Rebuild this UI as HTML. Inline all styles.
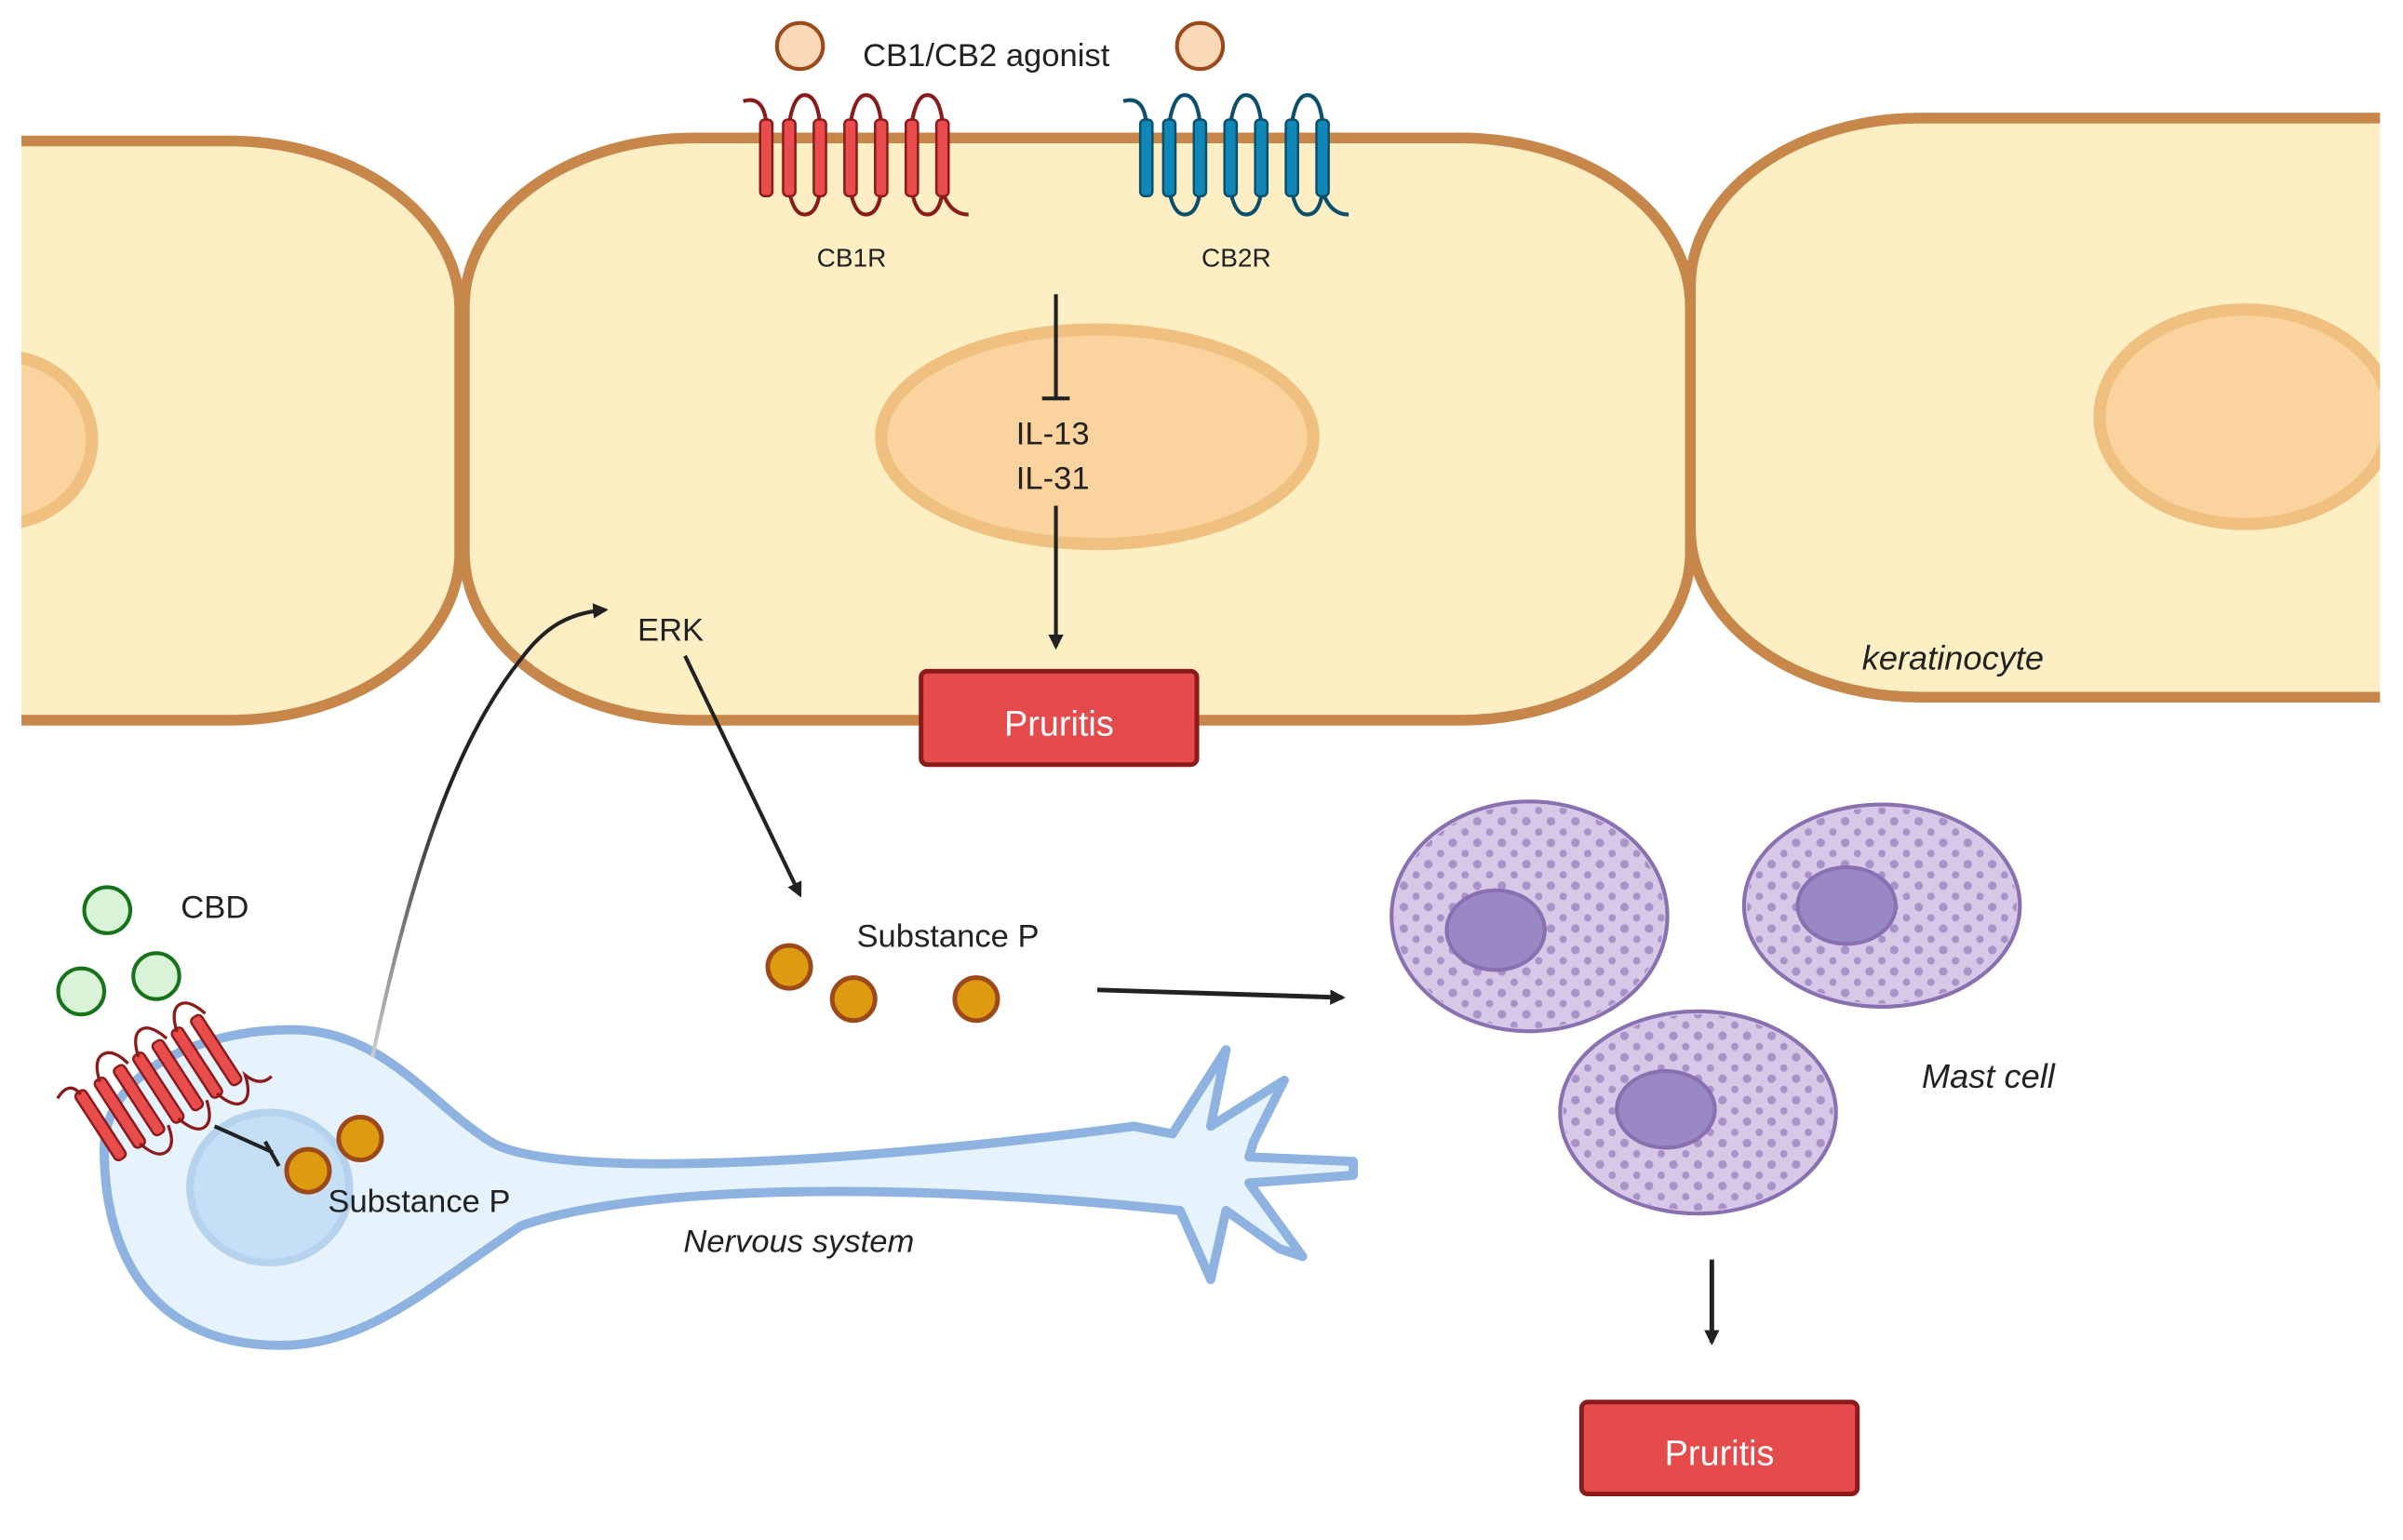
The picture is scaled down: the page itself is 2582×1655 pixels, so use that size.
<!DOCTYPE html>
<html><head><meta charset="utf-8"><style>html,body{margin:0;padding:0;background:#fff}svg{display:block}text{font-family:"Liberation Sans",sans-serif}</style></head>
<body>
<svg width="2582" height="1655" viewBox="0 0 1568 1005" xmlns="http://www.w3.org/2000/svg">
<defs>
<clipPath id="cl"><rect x="14" y="0" width="1539" height="1005"/></clipPath>
<pattern id="dots" width="16" height="14" patternUnits="userSpaceOnUse">
<circle cx="4" cy="4" r="2.8" fill="#a892c8"/><circle cx="12" cy="11" r="2.4" fill="#a892c8"/></pattern>
<marker id="ar" markerWidth="10" markerHeight="10" refX="8" refY="5" orient="auto" markerUnits="userSpaceOnUse"><path d="M0,0 L10,5 L0,10 Z" fill="#222"/></marker>
<linearGradient id="gl" x1="0" y1="1" x2="0" y2="0"><stop offset="0" stop-color="#ccc"/><stop offset="0.6" stop-color="#222"/></linearGradient>
</defs>
<g clip-path="url(#cl)" fill="#fdefc3" stroke="#c8874a" stroke-width="7">
<rect x="-300" y="92" width="600" height="378" rx="150" ry="110"/>
<rect x="1103" y="77" width="700" height="378" rx="150" ry="110"/>
<rect x="303" y="90" width="800" height="380" rx="150" ry="110"/>
</g>
<g clip-path="url(#cl)" fill="#fbd39e" stroke="#f0c080" stroke-width="8">
<ellipse cx="0" cy="287" rx="60" ry="55"/>
<ellipse cx="716" cy="285" rx="141" ry="70"/>
<ellipse cx="1465" cy="272" rx="95" ry="70"/>
</g>
<g stroke="#8b1a1a" stroke-width="2.5" fill="none">
<path d="M485 66 Q498 62 500 80 M515 80 Q518 62 525 62 Q533 62 535 80 M555 80 Q558 62 565 62 Q573 62 575 80 M595 80 Q598 62 605 62 Q613 62 615 80"/>
<path d="M515 125 Q518 140 525 140 Q533 140 535 125 M555 125 Q558 140 565 140 Q573 140 575 125 M595 125 Q598 140 605 140 Q613 140 615 125 Q620 140 632 140"/>
</g>
<g fill="#e84c4c" stroke="#8b1a1a" stroke-width="1.5">
<rect x="496" y="78" width="8" height="50" rx="3"/><rect x="511" y="78" width="8" height="50" rx="3"/><rect x="531" y="78" width="8" height="50" rx="3"/><rect x="551" y="78" width="8" height="50" rx="3"/><rect x="571" y="78" width="8" height="50" rx="3"/><rect x="591" y="78" width="8" height="50" rx="3"/><rect x="611" y="78" width="8" height="50" rx="3"/>
</g>
<g stroke="#0b4f6c" stroke-width="2.5" fill="none">
<path d="M733 66 Q746 62 748 80 M763 80 Q766 62 773 62 Q781 62 783 80 M803 80 Q806 62 813 62 Q821 62 823 80 M843 80 Q846 62 853 62 Q861 62 863 80"/>
<path d="M763 125 Q766 140 773 140 Q781 140 783 125 M803 125 Q806 140 813 140 Q821 140 823 125 M843 125 Q846 140 853 140 Q861 140 863 125 Q868 140 880 140"/>
</g>
<g fill="#1187b8" stroke="#0b4f6c" stroke-width="1.5">
<rect x="744" y="78" width="8" height="50" rx="3"/><rect x="759" y="78" width="8" height="50" rx="3"/><rect x="779" y="78" width="8" height="50" rx="3"/><rect x="799" y="78" width="8" height="50" rx="3"/><rect x="819" y="78" width="8" height="50" rx="3"/><rect x="839" y="78" width="8" height="50" rx="3"/><rect x="859" y="78" width="8" height="50" rx="3"/>
</g>
<circle cx="522" cy="30" r="15" fill="#f9d9b8" stroke="#9c4a1a" stroke-width="2.5"/>
<circle cx="783" cy="30" r="15" fill="#f9d9b8" stroke="#9c4a1a" stroke-width="2.5"/>
<text x="563" y="43" font-size="21" fill="#222">CB1/CB2 agonist</text>
<text x="533" y="174" font-size="17" fill="#222">CB1R</text>
<text x="784" y="174" font-size="17" fill="#222">CB2R</text>
<line x1="689" y1="192" x2="689" y2="260" stroke="#222" stroke-width="2.5"/>
<line x1="680" y1="260" x2="698" y2="260" stroke="#222" stroke-width="2.5"/>
<text x="663" y="290" font-size="21" fill="#222">IL-13</text>
<text x="663" y="319" font-size="21" fill="#222">IL-31</text>
<line x1="689" y1="330" x2="689" y2="422" stroke="#222" stroke-width="2.5" marker-end="url(#ar)"/>
<rect x="601" y="438" width="180" height="61" rx="4" fill="#e64b4b" stroke="#8b1a1a" stroke-width="3"/>
<text x="691" y="480" font-size="23" fill="#fff" text-anchor="middle">Pruritis</text>
<text x="416" y="418" font-size="21" fill="#222">ERK</text>
<text x="1215" y="437" font-size="22" font-style="italic" fill="#222">keratinocyte</text>
<line x1="447" y1="428" x2="522" y2="584" stroke="#222" stroke-width="2.5" marker-end="url(#ar)"/>
<path d="M190 672 C250 672,280 720,320 745 C360 770,550 760,740 735 L765 740 L800 685 L790 735 L838 705 L818 745 L815 755 L883 758 L883 767 L815 772 L850 820 L835 815 L800 790 L790 835 L770 790 C600 772,420 772,340 800 C280 840,240 878,183 878 C100 878,68 820,68 750 C68 700,130 672,190 672 Z" fill="#e6f3fd" stroke="#8fb3e0" stroke-width="6" stroke-linejoin="round"/>
<ellipse cx="176" cy="775" rx="52" ry="49" fill="#c5dff6" stroke="#b5d3ec" stroke-width="5"/>
<path d="M243 690 C270 560,300 480,340 430 C355 410,370 400,395 398" fill="none" stroke="url(#gl)" stroke-width="2.5" marker-end="url(#ar)"/>
<line x1="140" y1="735" x2="178" y2="752" stroke="#222" stroke-width="2.5"/>
<line x1="173" y1="745" x2="182" y2="761" stroke="#222" stroke-width="2.5"/>
<circle cx="235" cy="743" r="14" fill="#de9b10" stroke="#9c4a1a" stroke-width="3"/>
<circle cx="201" cy="764" r="14" fill="#de9b10" stroke="#9c4a1a" stroke-width="3"/>
<text x="214" y="791" font-size="21" fill="#222">Substance P</text>
<text x="446" y="817" font-size="21" font-style="italic" fill="#222">Nervous system</text>
<g transform="translate(100,712) rotate(-33)">
<g fill="#e84c4c" stroke="#8b1a1a" stroke-width="1.5">
<rect x="-45" y="-26" width="8" height="52" rx="3"/><rect x="-30" y="-26" width="8" height="52" rx="3"/><rect x="-15" y="-26" width="8" height="52" rx="3"/><rect x="0" y="-26" width="8" height="52" rx="3"/><rect x="15" y="-26" width="8" height="52" rx="3"/><rect x="30" y="-26" width="8" height="52" rx="3"/><rect x="45" y="-26" width="8" height="52" rx="3"/>
</g>
<path d="M-55 -30 Q-42 -36 -41 -24 M-26 -24 Q-22 -38 -15 -38 Q-7 -38 -4 -24 M4 -24 Q8 -38 15 -38 Q22 -38 26 -24 M34 -24 Q38 -38 45 -38 Q52 -38 56 -24 M-26 24 Q-22 38 -15 38 Q-7 38 -4 24 M4 24 Q8 38 15 38 Q22 38 26 24 M34 24 Q38 38 45 38 Q52 38 56 24 Q60 36 70 34" fill="none" stroke="#8b1a1a" stroke-width="2"/>
</g>
<circle cx="70" cy="594" r="15" fill="#d8f3d8" stroke="#16731a" stroke-width="2.5"/>
<circle cx="53" cy="647" r="15" fill="#d8f3d8" stroke="#16731a" stroke-width="2.5"/>
<circle cx="102" cy="637" r="15" fill="#d8f3d8" stroke="#16731a" stroke-width="2.5"/>
<text x="118" y="599" font-size="21" fill="#222">CBD</text>
<circle cx="515" cy="631" r="14" fill="#de9b10" stroke="#9c4a1a" stroke-width="3"/>
<circle cx="557" cy="652" r="14" fill="#de9b10" stroke="#9c4a1a" stroke-width="3"/>
<circle cx="637" cy="652" r="14" fill="#de9b10" stroke="#9c4a1a" stroke-width="3"/>
<text x="559" y="618" font-size="21" fill="#222">Substance P</text>
<line x1="716" y1="646" x2="876" y2="651" stroke="#222" stroke-width="3" marker-end="url(#ar)"/>
<g stroke="#8a70b0" stroke-width="2.5">
<ellipse cx="998" cy="598" rx="90" ry="75" fill="#d8c8e8"/><ellipse cx="998" cy="598" rx="88" ry="73" fill="url(#dots)" stroke="none"/>
<ellipse cx="976" cy="607" rx="32" ry="26" fill="#9a88c4"/>
<ellipse cx="1228" cy="591" rx="90" ry="66" fill="#d8c8e8"/><ellipse cx="1228" cy="591" rx="88" ry="64" fill="url(#dots)" stroke="none"/>
<ellipse cx="1205" cy="591" rx="32" ry="25" fill="#9a88c4"/>
<ellipse cx="1108" cy="726" rx="90" ry="66" fill="#d8c8e8"/><ellipse cx="1108" cy="726" rx="88" ry="64" fill="url(#dots)" stroke="none"/>
<ellipse cx="1087" cy="724" rx="32" ry="25" fill="#9a88c4"/>
</g>
<text x="1254" y="710" font-size="22" font-style="italic" fill="#222">Mast cell</text>
<line x1="1117" y1="822" x2="1117" y2="876" stroke="#222" stroke-width="3" marker-end="url(#ar)"/>
<rect x="1032" y="915" width="180" height="60" rx="4" fill="#e64b4b" stroke="#8b1a1a" stroke-width="3"/>
<text x="1122" y="956" font-size="23" fill="#fff" text-anchor="middle">Pruritis</text>
</svg>
</body></html>
